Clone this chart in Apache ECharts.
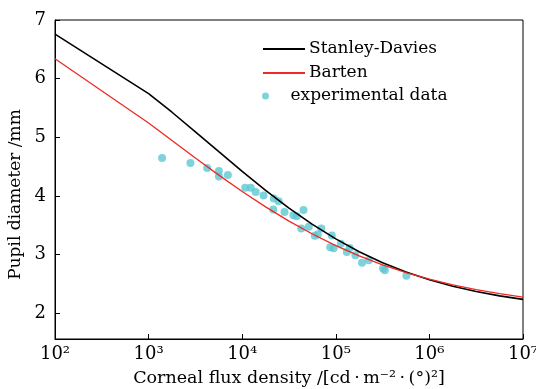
<!DOCTYPE html>
<html><head><meta charset="utf-8">
<script src="https://cdn.jsdelivr.net/npm/echarts@6/dist/echarts.min.js"></script>
<style>html,body{margin:0;padding:0;background:#fff}#c{width:536px;height:389px}</style>
</head><body><div id="c"></div>
<script>
// Model curves (x = corneal flux density, y = pupil diameter mm)
var curveX = [100, 1000, 1778, 3162, 5623, 10000, 17783, 31623, 56234, 100000, 177828, 316228, 562341, 1000000, 1778279, 3162278, 5623413, 10000000];
var stanleyY = [6.76, 5.745, 5.427, 5.094, 4.755, 4.42, 4.096, 3.793, 3.515, 3.267, 3.049, 2.862, 2.702, 2.569, 2.459, 2.369, 2.295, 2.236];
var bartenY = [6.34, 5.244, 4.945, 4.647, 4.355, 4.076, 3.813, 3.57, 3.35, 3.153, 2.978, 2.825, 2.692, 2.58, 2.483, 2.401, 2.332, 2.275];
// Experimental data
var expX = [1393, 2800, 4227, 5636, 5636, 7031, 10770, 12330, 13930, 16900, 21730, 24550, 21480, 28330, 35320, 38300, 45180, 42770, 51400, 59570, 64120, 69940, 90570, 87290, 94840, 113000, 131200, 140600, 161800, 190600, 225400, 319900, 334300, 567500];
var expY = [4.645, 4.56, 4.474, 4.423, 4.333, 4.355, 4.138, 4.138, 4.065, 4.009, 3.957, 3.911, 3.77, 3.724, 3.672, 3.655, 3.758, 3.445, 3.473, 3.319, 3.34, 3.445, 3.326, 3.126, 3.109, 3.186, 3.044, 3.113, 2.99, 2.862, 2.904, 2.764, 2.734, 2.637];
// Tick labels
var xTickValues = [100, 1000, 10000, 100000, 1000000, 10000000];
var xTickLabels = ['10\u00b2', '10\u00b3', '10\u2074', '10\u2075', '10\u2076', '10\u2077'];
var yTickValues = [2, 3, 4, 5, 6, 7];

function zip(a, b) { return a.map(function (v, i) { return [v, b[i]]; }); }
var FONT = 'DejaVu Serif';
var chart = echarts.init(document.getElementById('c'), null, {renderer: 'canvas'});
chart.setOption({
  animation: false,
  textStyle: {fontFamily: FONT, color: '#000'},
  grid: {left: 55, right: 13, top: 20, bottom: 50, show: true, borderColor: '#000', borderWidth: 1, backgroundColor: 'transparent', outerBoundsMode: 'none', containLabel: false},
  legend: [{
    orient: 'vertical', left: 257, top: 34, itemWidth: 42, itemHeight: 1.6, itemGap: 4,
    textStyle: {fontFamily: FONT, fontSize: 17, color: '#000', padding: [0, 0, 0, -1], lineHeight: 20},
    data: ['Stanley-Davies', 'Barten']
  }, {
    orient: 'vertical', left: 257, top: 81, itemWidth: 42, itemHeight: 7,
    textStyle: {fontFamily: FONT, fontSize: 17, color: '#000', padding: [0, 0, 0, -1], lineHeight: 20},
    data: ['experimental data']
  }],
  xAxis: {
    type: 'log', logBase: 10, min: 100, max: 10000000,
    name: 'Corneal flux density /[cd\u2009\u00b7\u2009m\u207b\u00b2\u2009\u00b7\u2009(\u00b0)\u00b2]',
    nameLocation: 'middle', nameGap: 30,
    nameTextStyle: {fontFamily: FONT, fontSize: 17.5, color: '#000'},
    axisLine: {lineStyle: {color: '#000', width: 1}},
    axisTick: {inside: true, length: 5, lineStyle: {color: '#000'}},
    minorTick: {show: false},
    axisLabel: {fontFamily: FONT, fontSize: 18, color: '#000', margin: 6,
      formatter: function (v) { var i = xTickValues.indexOf(Math.round(v)); return i >= 0 ? xTickLabels[i] : ''; }},
    splitLine: {show: false}
  },
  yAxis: {
    type: 'value', min: 1.56, max: 7,
    name: 'Pupil diameter /mm', nameLocation: 'middle', nameGap: 24,
    nameTextStyle: {fontFamily: FONT, fontSize: 17, color: '#000', padding: [0, 0, 0, -30]},
    axisLine: {show: true, lineStyle: {color: '#000', width: 1}},
    axisTick: {show: true, inside: true, length: 5, lineStyle: {color: '#000'}, customValues: yTickValues},
    axisLabel: {fontFamily: FONT, fontSize: 18, color: '#000', margin: 9, customValues: yTickValues},
    splitLine: {show: false}
  },
  series: [{
    name: 'experimental data', type: 'scatter', data: zip(expX, expY),
    symbol: 'circle', symbolSize: 8, itemStyle: {color: '#5cc8d3'}, z: 1
  }, {
    name: 'Stanley-Davies', type: 'line', data: zip(curveX, stanleyY), legendIcon: 'rect',
    symbol: 'none', smooth: false, lineStyle: {color: '#000', width: 1.6}, itemStyle: {color: '#000'}, z: 3
  }, {
    name: 'Barten', type: 'line', data: zip(curveX, bartenY), legendIcon: 'rect',
    symbol: 'none', smooth: false, lineStyle: {color: '#ee2a24', width: 1.3}, itemStyle: {color: '#ee2a24'}, z: 3
  }]
});
</script></body></html>
